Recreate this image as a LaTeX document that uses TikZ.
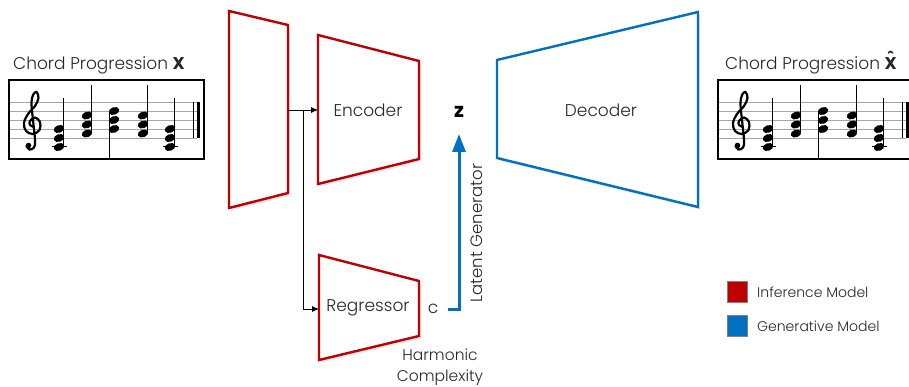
\documentclass[tikz,border=0pt]{standalone}
\usepackage{fontspec}
\setmainfont{Poppins}[UprightFont=* Light, BoldFont=* Bold]
\usetikzlibrary{arrows.meta,shadows}
\definecolor{infred}{RGB}{192,0,0}
\definecolor{genblue}{RGB}{0,112,192}
\definecolor{txt}{RGB}{40,40,40}
\newcommand\nhead[2]{\fill[rotate around={20:(#1,#2)}] (#1,#2) ellipse [x radius=5.4, y radius=3.8];}
\newcommand\chordCEG[2]{\nhead{#1}{147}\nhead{#1}{138}\nhead{#1}{129}
  \draw[line width=1pt] (#1-7.5,147) -- (#1+7.5,147);
  \draw[line width=1.3pt] (#1+4.8,146) -- (#1+4.8,#2);}
\newcommand\chordFAC[2]{\nhead{#1}{133.5}\nhead{#1}{124.5}\nhead{#1}{115.5}
  \draw[line width=1.3pt] (#1+4.8,132.5) -- (#1+4.8,#2);}
\newcommand\mystaffpic{%
  \draw[line width=2pt, fill=white] (9,80) rectangle (204,159);
  \foreach \yy in {102,111,120,129,138} \draw[gray!70, line width=0.9pt] (10,\yy) -- (197,\yy);
  \draw[line width=2.2pt, line cap=round] plot[smooth, tension=0.6] coordinates {(34,127) (30,125) (30,121) (35,117.5) (40,122) (39.5,130) (33,134) (26,131) (24,123) (28,114) (35,106) (38.5,98) (36.5,92) (33,95) (31.5,104) (33,120) (35,140) (34,147.5) (29.5,149.5) (26.5,146)};
  \fill (28.5,145.5) circle (2.8);
  \chordCEG{59}{98}
  \chordFAC{87}{85}
  \nhead{114}{129}\nhead{114}{120}\nhead{114}{111}
  \draw[line width=1.3pt] (109.2,112) -- (109.2,158);
  \chordFAC{143}{85}
  \chordCEG{170}{98}
  \draw[line width=0.9pt] (193,102) -- (193,138);
  \draw[line width=3.2pt] (198.5,102) -- (198.5,138);
}
\begin{document}
\begin{tikzpicture}[x=1pt,y=-1pt,
  redbox/.style={draw=infred, line width=2.4pt, fill=white, line join=miter,
    drop shadow={opacity=0.18, shadow xshift=2pt, shadow yshift=-2.5pt}},
  bluebox/.style={draw=genblue, line width=2.4pt, fill=white, line join=miter,
    drop shadow={opacity=0.18, shadow xshift=2pt, shadow yshift=-2.5pt}},
  lbl/.style={text=txt, font=\fontsize{17}{20}\selectfont, inner sep=0pt},
  small/.style={text=txt, font=\fontsize{14}{21}\selectfont, inner sep=0pt},
  legbox/.style={draw=gray, line width=1pt}]
\clip (0,0) rectangle (909,387);
\fill[white] (0,0) rectangle (909,387);

% staffs
\node[lbl, anchor=base west] (tx) at (13,70) {Chord Progression \textbf{X}};
\begin{scope}\mystaffpic\end{scope}
\node[lbl, anchor=base west] (txh) at (725,70) {Chord Progression \textbf{\ooalign{X\cr\hidewidth\raisebox{0.3em}{ˆ}\hidewidth\cr}}};
\begin{scope}[xshift=709pt]\mystaffpic\end{scope}

% trapezoids
\path[redbox] (229,11) -- (288,25) -- (288,193) -- (229,208) -- cycle;
\path[redbox] (318,35) -- (419,61) -- (419,159) -- (318,184) -- cycle;
\path[redbox] (319,255) -- (419,281) -- (419,336) -- (319,360) -- cycle;
\path[bluebox] (497,60) -- (698,12) -- (698,207) -- (497,158) -- cycle;

\node[lbl] (enc) at (368,110) {Encoder};
\node[lbl] (reg) at (368,308) {Regressor};
\node[lbl] (dec) at (601,110) {Decoder};
\node[lbl, text=black, font=\bfseries\fontsize{20}{22}\selectfont] (z) at (459,112) {z};
\node[lbl] (c) at (433,309) {c};
\node[small, rotate=90, font=\fontsize{16.5}{20}\selectfont] (lat) at (477,233) {Latent Generator};
\node[small, align=center, font=\fontsize{15.5}{21}\selectfont] (harm) at (440,367) {Harmonic\\Complexity};

% connectors
\coordinate (inR) at (288,110);
\coordinate (encL) at (318,110);
\coordinate (br) at (303,110);
\coordinate (regL) at (319,309);
\coordinate (cR) at (448,309);
\coordinate (zB) at (459,134);
\draw[line width=0.9pt, -{Latex[length=7pt,width=6pt]}] (inR) -- (encL);
\draw[line width=0.9pt, -{Latex[length=7pt,width=6pt]}] (br) |- (regL);
\draw[genblue, line width=3pt, -{Triangle[length=18pt,width=13pt]}] (cR) -| (zB);

% legend
\path[legbox, fill=infred] (727,281) rectangle (747,302);
\path[legbox, fill=genblue] (727,315) rectangle (747,336);
\node[small, anchor=west] (l1) at (757,292) {Inference Model};
\node[small, anchor=west] (l2) at (757,326) {Generative Model};
\end{tikzpicture}
\end{document}
